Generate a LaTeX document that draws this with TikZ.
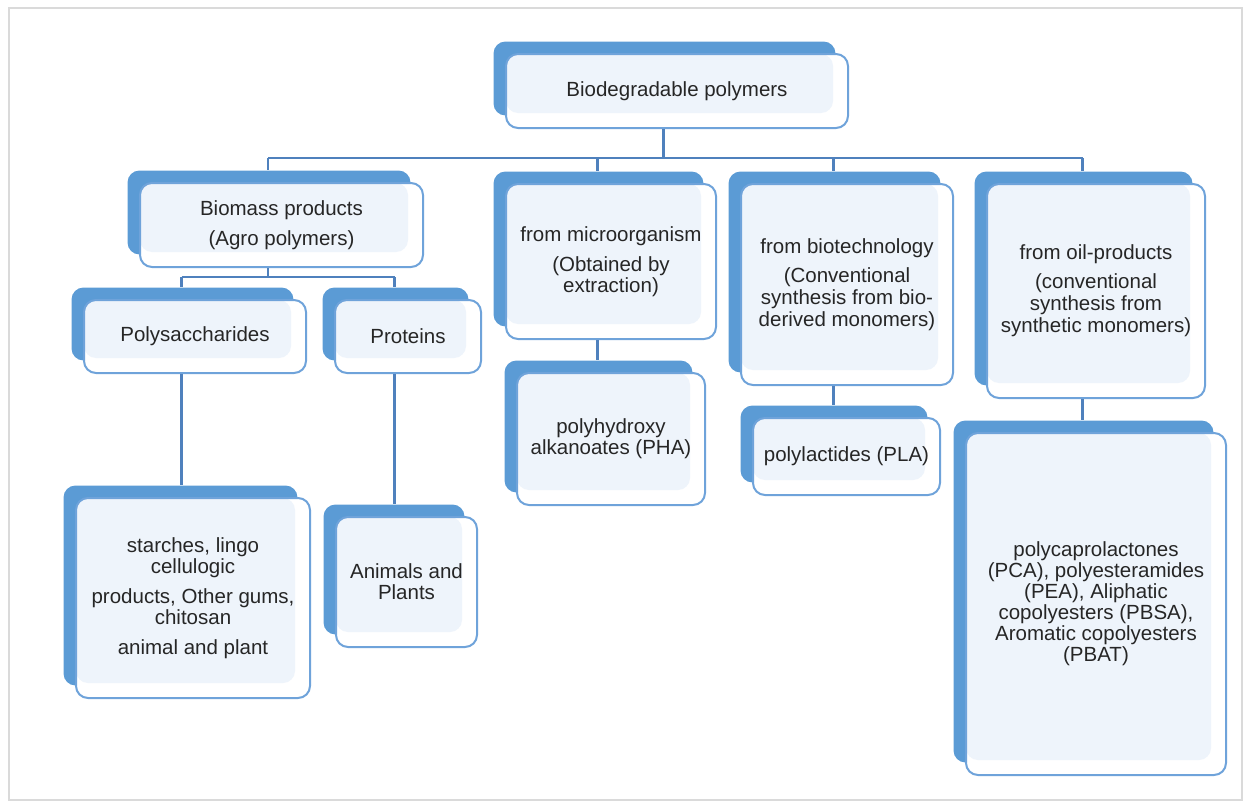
\documentclass[tikz,border=0pt]{standalone}
\usepackage{fontspec}
\setmainfont{Liberation Sans}
\usetikzlibrary{positioning, shadows}
\definecolor{boxback}{HTML}{5B9BD5}
\definecolor{boxline}{HTML}{6FA3DA}
\definecolor{boxlight}{HTML}{EEF4FB}
\definecolor{linkblue}{HTML}{4F81BD}
\definecolor{framegray}{HTML}{DADADA}
\newcommand{\boxfont}{\fontsize{10.25}{10.5}\selectfont}
\tikzset{
  polybox/.style={draw=boxline, line width=1pt, fill=white, rounded corners=6pt,
    general shadow={fill=boxback, shadow xshift=-6.25pt, shadow yshift=6.25pt},
    path picture={\fill[boxlight, rounded corners=6pt] (path picture bounding box.north west)
      rectangle ([xshift=-7.5pt,yshift=7.5pt]path picture bounding box.south east);},
    align=center, inner sep=2pt, text=black!85, font=\boxfont},
  conn/.style={draw=linkblue, line width=1.2pt}
}

\begin{document}
\begin{tikzpicture}[x=0.5pt, y=-0.5pt]
\useasboundingbox (0,0) rectangle (1244,803);
\draw [framegray, line width=1.2pt] (9,8) rectangle (1242,800);

% boxes
\node[polybox, minimum width=171pt, minimum height=37pt] (top) at (677,91) {Biodegradable polymers};
\node[polybox, minimum width=141.5pt, minimum height=42pt] (bio) at (281.5,225) {Biomass products\\[4.5pt](Agro polymers)};
\node[polybox, minimum width=111pt, minimum height=36.5pt] (poly) at (195,336.5) {Polysaccharides};
\node[polybox, minimum width=73pt, minimum height=36.5pt] (prot) at (408,336.5) {Proteins};
\node[polybox, minimum width=117pt, minimum height=100pt] (starch) at (193,598) {starches, lingo\\cellulogic\\[4.5pt]products, Other gums,\\chitosan\\[4.5pt]animal and plant};
\node[polybox, minimum width=70.5pt, minimum height=65pt] (anim) at (406.5,582) {Animals and\\Plants};
\node[polybox, minimum width=105pt, minimum height=77.5pt] (micro) at (611,261.5) {from microorganism\\[4.5pt](Obtained by\\extraction)};
\node[polybox, minimum width=94pt, minimum height=66pt] (pha) at (611,439) {polyhydroxy\\alkanoates (PHA)};
\node[polybox, minimum width=106pt, minimum height=100.5pt] (biot) at (847,284.5) {from biotechnology\\[4pt](Conventional\\[0.5pt]synthesis from bio-\\[0.5pt]derived monomers)};
\node[polybox, minimum width=93.5pt, minimum height=38.5pt] (pla) at (846.5,456.5) {polylactides (PLA)};
\node[polybox, minimum width=109pt, minimum height=107pt] (oil) at (1096,291) {from oil-products\\[4pt](conventional\\[0.5pt]synthesis from\\[0.5pt]synthetic monomers)};
\node[polybox, minimum width=130pt, minimum height=171pt] (big) at (1096,604) {polycaprolactones\\(PCA), polyesteramides\\(PEA), Aliphatic\\copolyesters (PBSA),\\Aromatic copolyesters\\(PBAT)};

% connector ends
\coordinate (bus) at (0,158);
\coordinate (subbus) at (0,277);
\coordinate (outtop) at ([xshift=-6.75pt]top.south);
\coordinate (outbio) at ([xshift=-6.75pt]bio.south);
\coordinate (outpoly) at ([xshift=-6.75pt]poly.south);
\coordinate (outprot) at ([xshift=-6.75pt]prot.south);
\coordinate (outmicro) at ([xshift=-6.75pt]micro.south);
\coordinate (outbiot) at ([xshift=-6.75pt]biot.south);
\coordinate (outoil) at ([xshift=-6.75pt]oil.south);
\coordinate (inbio) at ([xshift=-6.75pt,yshift=6.25pt]bio.north);
\coordinate (inpoly) at ([xshift=-6.75pt,yshift=6.25pt]poly.north);
\coordinate (inprot) at ([xshift=-6.75pt,yshift=6.25pt]prot.north);
\coordinate (instarch) at ([xshift=-6.75pt,yshift=6.25pt]starch.north);
\coordinate (inanim) at ([xshift=-6.75pt,yshift=6.25pt]anim.north);
\coordinate (inmicro) at ([xshift=-6.75pt,yshift=6.25pt]micro.north);
\coordinate (inpha) at ([xshift=-6.75pt,yshift=6.25pt]pha.north);
\coordinate (inbiot) at ([xshift=-6.75pt,yshift=6.25pt]biot.north);
\coordinate (inpla) at ([xshift=-6.75pt,yshift=6.25pt]pla.north);
\coordinate (inoil) at ([xshift=-6.75pt,yshift=6.25pt]oil.north);
\coordinate (inbig) at ([xshift=-6.75pt,yshift=6.25pt]big.north);

% connectors
\draw[conn] (outtop) -- (outtop |- bus);
\draw[conn] (inbio |- bus) -- (inoil |- bus);
\draw[conn] (inbio |- bus) -- (inbio);
\draw[conn] (inmicro |- bus) -- (inmicro);
\draw[conn] (inbiot |- bus) -- (inbiot);
\draw[conn] (inoil |- bus) -- (inoil);
\draw[conn] (outbio) -- (outbio |- subbus);
\draw[conn] (inpoly |- subbus) -- (inprot |- subbus);
\draw[conn] (inpoly |- subbus) -- (inpoly);
\draw[conn] (inprot |- subbus) -- (inprot);
\draw[conn] (outpoly) -- (outpoly |- instarch);
\draw[conn] (outprot) -- (outprot |- inanim);
\draw[conn] (outmicro) -- (outmicro |- inpha);
\draw[conn] (outbiot) -- (outbiot |- inpla);
\draw[conn] (outoil) -- (outoil |- inbig);
\end{tikzpicture}
\end{document}
